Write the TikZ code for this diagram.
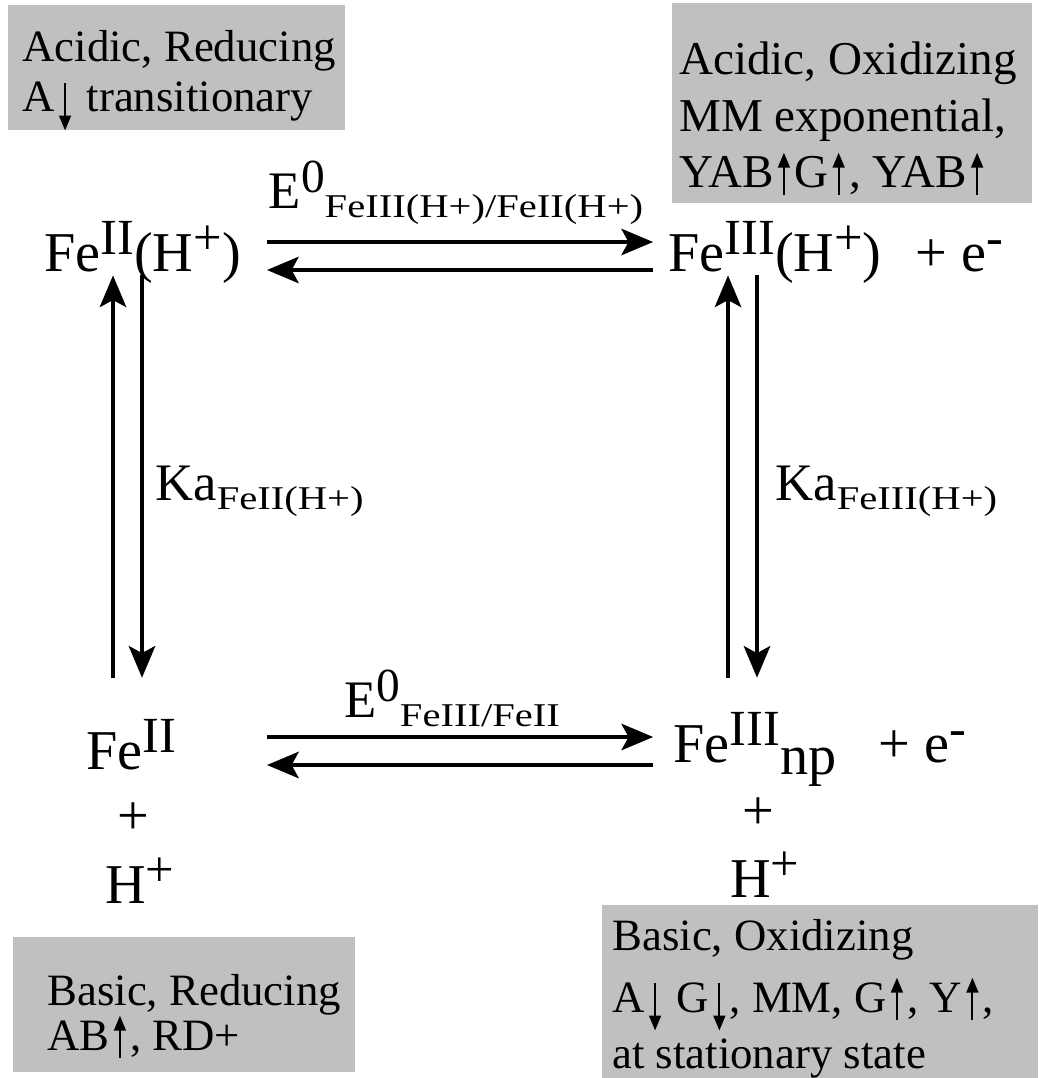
\documentclass[tikz,border=0pt]{standalone}
\usepackage{fontspec}
\setmainfont{Liberation Serif}
\usetikzlibrary{arrows.meta}
\definecolor{boxgray}{RGB}{192,192,192}
\newcommand{\supr}[1]{\raisebox{.3em}{\scalebox{.9}{#1}}}
\newcommand{\subr}[1]{\raisebox{-.18em}{\scalebox{.77}[.63]{#1}}}
% thin trend arrows inside the panels
\newcommand{\uarr}{\hspace{2.5pt}\tikz[baseline=0pt,x=1pt,y=1pt]\draw[line width=1.1pt,-{Triangle[length=8.5pt,width=6.8pt]}] (0,-4.5) -- (0,19.5);\hspace{2.5pt}}
\newcommand{\darr}{\hspace{2.5pt}\tikz[baseline=0pt,x=1pt,y=1pt]\draw[line width=1.1pt,-{Triangle[length=8.5pt,width=6.8pt]}] (0,16.5) -- (0,-10.5);\hspace{2.5pt}}

\begin{document}
\begin{tikzpicture}[x=0.02cm,y=-0.02cm,
  chem/.style={inner sep=0pt, anchor=base west, font=\fontsize{32}{38}\selectfont},
  note/.style={inner sep=0pt, anchor=base west, font=\fontsize{25.5}{30}\selectfont},
  konst/.style={inner sep=0pt, font=\fontsize{30}{36}\selectfont},
  rxn/.style={line width=2.3pt, -{Stealth[length=18pt,width=15pt,inset=4pt]}}]

\useasboundingbox (0,0) rectangle (1038,1078);

% condition panels
\fill[boxgray] (8,5) rectangle (345,130);
\fill[boxgray] (672,3) rectangle (1032,203);
\fill[boxgray] (13,937) rectangle (355,1072);
\fill[boxgray] (602,905) rectangle (1038,1078);

\node[note] (tlA) at (22,62) {Acidic, Reducing};
\node[note] (tlB) at (22,112) {A\darr{} transitionary};
\node[note, font=\fontsize{26.8}{30}\selectfont] (trA) at (679,75) {Acidic, Oxidizing};
\node[note, font=\fontsize{26.8}{30}\selectfont] (trB) at (679,132) {MM exponential,};
\node[note, font=\fontsize{26.8}{30}\selectfont] (trC) at (679,187) {YAB\uarr G\uarr, YAB\uarr};
\node[note] (blA) at (47,1005) {Basic, Reducing};
\node[note] (blB) at (47,1050) {AB\uarr, RD+};
\node[note] (brA) at (612,950) {Basic, Oxidizing};
\node[note] (brB) at (612,1012) {A\darr{} G\darr, MM, G\uarr, Y\uarr,};
\node[note] (brC) at (612,1068) {at stationary state};

% species
\node[chem] (feIIH) at (44,271) {Fe\supr{II}(H\supr{+})};
\node[chem] (feIIIH) at (668,271) {Fe\supr{III}(H\supr{+})\hspace{.35em} + e\supr{-}};
\node[chem] (feII) at (86,769) {Fe\supr{II}};
\node[chem, anchor=center] (plusL) at (133,819) {+};
\node[chem] (protL) at (105,903) {H\supr{+}};
\node[chem] (feIIInp) at (673,762) {Fe\supr{III}\raisebox{-.23em}{np}};
\node[chem] (elecB) at (878,762) {+ e\supr{-}};
\node[chem, anchor=center] (plusR) at (758,814) {+};
\node[chem] (protR) at (730,897) {H\supr{+}};

% constants
\node[konst, anchor=base] (eTop) at (456,208) {E\supr{0}\subr{FeIII(H+)/FeII(H+)}};
\node[konst, anchor=base] (eBot) at (452,717) {E\supr{0}\subr{FeIII/FeII}};
\node[konst, anchor=base west] (kaL) at (155,500) {Ka\subr{FeII(H+)}};
\node[konst, anchor=base west] (kaR) at (775,500) {Ka\subr{FeIII(H+)}};

\coordinate (fwdA) at (0,242);
\coordinate (bwdA) at (0,270);
\coordinate (fwdB) at (0,737);
\coordinate (bwdB) at (0,765);
\coordinate (upL) at (113,0);
\coordinate (dnL) at (142,0);
\coordinate (upR) at (728,0);
\coordinate (dnR) at (757,0);

\draw[rxn, shorten <=14.7pt, shorten >=8.5pt] (feIIH.east |- fwdA) -- (feIIIH.west |- fwdA);
\draw[rxn, shorten <=8.5pt, shorten >=14.7pt] (feIIIH.west |- bwdA) -- (feIIH.east |- bwdA);
\draw[rxn, shorten <=14.7pt, shorten >=11.3pt] (feIIH.east |- fwdB) -- (feIIInp.west |- fwdB);
\draw[rxn, shorten <=11.3pt, shorten >=14.7pt] (feIIInp.west |- bwdB) -- (feIIH.east |- bwdB);

\draw[rxn, shorten <=23.3pt, shorten >=-4.5pt] (upL |- feII.north) -- (upL |- feIIH.south);
\draw[rxn, shorten <=-4.5pt, shorten >=23.3pt] (dnL |- feIIH.south) -- (dnL |- feII.north);
\draw[rxn, shorten <=19.3pt, shorten >=-4.5pt] (upR |- feIIInp.north) -- (upR |- feIIIH.south);
\draw[rxn, shorten <=-4.5pt, shorten >=19.3pt] (dnR |- feIIIH.south) -- (dnR |- feIIInp.north);
\end{tikzpicture}
\end{document}
